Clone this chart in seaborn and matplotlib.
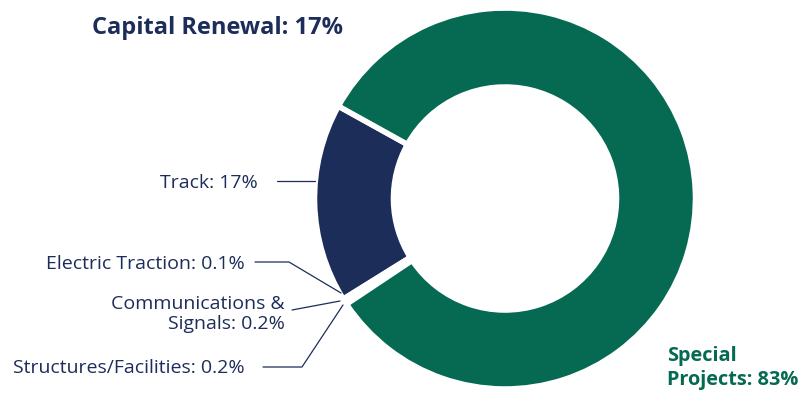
import matplotlib.pyplot as plt
import seaborn as sns

# capital program split (percent of total)
segments = ['Track', 'Electric Traction', 'Communications & Signals',
            'Structures/Facilities', 'Special Projects']
shares = [17, 0.1, 0.2, 0.2, 83]
seg_colors = ['#1d2d5a', '#1d2d5a', '#066a52', '#066a52', '#066a52']

navy = '#1d2d5a'
green = '#066a52'

sns.set_style('white')
plt.rcParams['font.family'] = ['Open Sans', 'DejaVu Sans']

W, H = 811, 393
fig = plt.figure(figsize=(W / 100, H / 100), dpi=100)
ax = fig.add_axes([0, 0, 1, 1])

# white edge stroke eats ~2px off each side, so draw slightly bigger
cx, cy, R = 505, H - 198.5, 190.5
ax.pie(shares, colors=seg_colors, startangle=151, counterclock=True,
       center=(cx, cy), radius=R,
       wedgeprops=dict(width=79, edgecolor='white', linewidth=4))

ax.set_xlim(0, W)
ax.set_ylim(0, H)
ax.set_aspect('equal')
ax.axis('off')

# headline labels
ax.text(217, H - 28, 'Capital Renewal: 17%', ha='center', va='center',
        fontsize=17, fontweight='bold', color=navy)
ax.text(667, H - 368, 'Special\nProjects: 83%', ha='left', va='center',
        fontsize=14.3, fontweight='bold', color=green, linespacing=1.2)

# small category labels with leader lines (pixel coords, y down)
labels = [
    ('Track: 17%', (258, 183), [(277, 181), (315, 181)]),
    ('Electric Traction: 0.1%', (245, 264), [(255, 262), (289, 262), (341, 293)]),
    ('Communications &\nSignals: 0.2%', (285, 314), [(292, 310), (340, 301)]),
    ('Structures/Facilities: 0.2%', (245, 368), [(263, 367), (302, 367), (343, 305)]),
]
for txt, (tx, ty), pts in labels:
    ax.text(tx, H - ty, txt, ha='right', va='center', fontsize=14,
            color=navy, linespacing=1.2)
    ax.plot([p[0] for p in pts], [H - p[1] for p in pts], color=navy, lw=0.9)

fig.savefig('out.png', dpi=100)
